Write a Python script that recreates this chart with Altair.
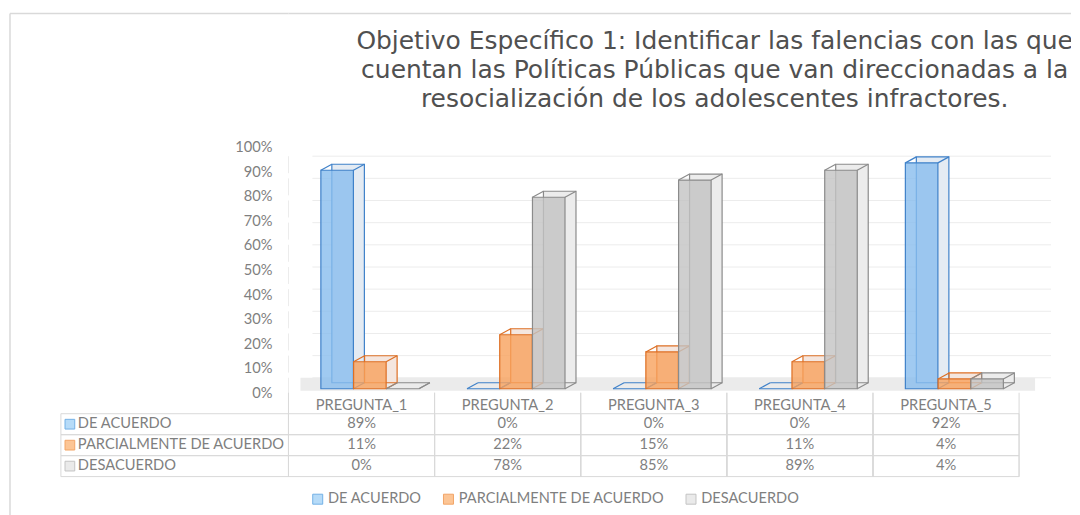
import altair as alt
import pandas as pd

# ---------------- data ----------------
titulo = [
    "Objetivo Específico 1: Identificar las falencias con las que",
    "cuentan las Políticas Públicas que van direccionadas a la",
    "resocialización de los adolescentes infractores.",
]
categorias = ["PREGUNTA_1", "PREGUNTA_2", "PREGUNTA_3", "PREGUNTA_4", "PREGUNTA_5"]
series = ["DE ACUERDO", "PARCIALMENTE DE ACUERDO", "DESACUERDO"]
de_acuerdo = [0.89, 0.00, 0.00, 0.00, 0.92]
parcialmente = [0.11, 0.22, 0.15, 0.11, 0.04]
desacuerdo = [0.00, 0.78, 0.85, 0.89, 0.04]
marcas_eje = [0.0, 0.1, 0.2, 0.3, 0.4, 0.5, 0.6, 0.7, 0.8, 0.9, 1.0]

# ---------------- styles ----------------
FONT = "Lato"
FONT_TIT = "DejaVu Sans"
TAM = 14.7
GRIS_TXT = "#7f7f7f"
LINEA = "#d9d9d9"
relleno_frente = ["#88bdee", "#f7a15c", "#c3c3c3"]
relleno_fondo = ["#e4ebf3", "#f4e6df", "#ececec"]
borde = ["#3f81c9", "#dd6f24", "#8b8b8b"]
relleno_icono = ["#b6dbf8", "#fcc595", "#eaeaea"]
borde_icono = ["#73b1e6", "#f2a566", "#c4c4c4"]

valores = {series[0]: de_acuerdo, series[1]: parcialmente, series[2]: desacuerdo}
df = pd.DataFrame(
    [{"pregunta": c, "serie": s, "valor": v} for s in series for c, v in zip(categorias, valores[s])]
)
df_cat = pd.DataFrame({"pregunta": categorias})
df_ser = pd.DataFrame({"serie": series})
df_marcas = pd.DataFrame({"v": marcas_eje})
uno = alt.Data(values=[{}])

W_IZQ, W_DER, W_PLOT = 279, 784, 732
H_TIT, H_BAR, H_TAB = 130, 250, 84

x_esc = alt.Scale(domain=categorias, paddingInner=0, paddingOuter=0)
y_esc = alt.Scale(domain=[-0.01626, 1.0], nice=False, zero=False)
filas = ["encabezado"] + series
y_filas = alt.Scale(domain=filas, paddingInner=0, paddingOuter=0)
X = alt.X("pregunta:N", scale=x_esc, axis=None)
Yv = alt.Y("valor:Q", scale=y_esc, axis=None)

# ---------------- bars panel ----------------
piso = alt.Chart(uno).mark_rect(x=12, x2=748, yOffset=2, y2Offset=-11, color="#ebebeb").encode(
    y=alt.YDatum(0, scale=y_esc, axis=None), y2=alt.Y2Datum(0)
)
persp = "0.0447 + 0.9025*datum.v"
rejilla = alt.Chart(df_marcas).transform_calculate(u=persp).mark_rule(
    x=24, x2=764, color="#ececec", strokeWidth=1
).encode(y=alt.Y("u:Q", scale=y_esc, axis=None))
pared = alt.Chart(df_marcas).transform_calculate(u=persp).mark_rule(
    x=0, x2=24, yOffset=17, color="#ececec", strokeWidth=1
).encode(y=alt.Y("u:Q", scale=y_esc, axis=None), y2=alt.Y2("u:Q"))

leyenda = alt.Legend(
    title=None, orient="none", legendX=22, legendY=349, direction="horizontal",
    symbolType="square", symbolSize=100, symbolStrokeWidth=1, symbolOpacity=1,
    labelFontSize=14.6, labelColor=GRIS_TXT, labelFont=FONT, labelLimit=0,
    columnPadding=19, labelOffset=3,
)
# invisible layer that only carries the legend (light swatches like the original)
capa_leyenda = alt.Chart(df_ser).mark_rect().encode(
    x=alt.value(0), x2=alt.value(0), y=alt.value(0), y2=alt.value(0),
    fill=alt.Fill("serie:N", scale=alt.Scale(domain=series, range=relleno_icono), legend=leyenda),
    stroke=alt.Stroke("serie:N", scale=alt.Scale(domain=series, range=borde_icono), legend=leyenda),
)

paso, ancho, inicio, centro_banda = 32.8, 32.6, 32.5, 73.25
prof_x, prof_y = 11, -6
capas = [piso, rejilla, pared]
for i, s in enumerate(series):
    dx = inicio + ancho / 2 + paso * i - centro_banda
    b = alt.Chart(df).transform_filter(alt.datum.serie == s)
    fondo = b.mark_bar(
        width=ancho, xOffset=dx + prof_x, yOffset=prof_y, y2Offset=prof_y,
        fill=relleno_fondo[i], stroke=borde[i], strokeWidth=1.2,
    ).encode(x=X, y=Yv, y2=alt.Y2Datum(0))
    d1 = b.mark_rule(
        xOffset=dx - ancho / 2, x2Offset=dx - ancho / 2 + prof_x, y2Offset=prof_y,
        stroke=borde[i], strokeWidth=1.2,
    ).encode(x=X, x2=alt.X2("pregunta"), y=Yv, y2=alt.Y2("valor"))
    d2 = b.mark_rule(
        xOffset=dx + ancho / 2, x2Offset=dx + ancho / 2 + prof_x, y2Offset=prof_y,
        stroke=borde[i], strokeWidth=1.2,
    ).encode(x=X, x2=alt.X2("pregunta"), y=Yv, y2=alt.Y2("valor"))
    d3 = b.mark_rule(
        xOffset=dx + ancho / 2, x2Offset=dx + ancho / 2 + prof_x, y2Offset=prof_y,
        stroke=borde[i], strokeWidth=1.2,
    ).encode(x=X, x2=alt.X2("pregunta"), y=alt.YDatum(0, scale=y_esc, axis=None), y2=alt.Y2Datum(0))
    frente = b.mark_bar(
        width=ancho, xOffset=dx, fill=relleno_frente[i], fillOpacity=0.8,
        stroke=borde[i], strokeWidth=1.2,
    ).encode(x=X, y=Yv, y2=alt.Y2Datum(0))
    capas += [fondo, d1, d2, d3, frente]
capas.append(capa_leyenda)

barras = alt.layer(*capas).properties(width=W_PLOT, height=H_BAR)

# ---------------- title panel ----------------
marco_sup = alt.Chart(uno).mark_rule(color=LINEA, strokeWidth=1.5).encode(
    x=alt.value(0), x2=alt.value(W_DER), y=alt.value(0)
)
texto_titulo = alt.Chart(uno).mark_text(
    x=427, y=28, align="center", baseline="middle", fontSize=25, lineHeight=29,
    color="#505050", clip=True, font=FONT_TIT,
).encode(text=alt.value(titulo))
panel_titulo = alt.layer(marco_sup, texto_titulo).properties(width=W_DER, height=H_TIT)

# ---------------- left frame cells ----------------
esq = alt.layer(
    alt.Chart(uno).mark_rule(color=LINEA, strokeWidth=1.5).encode(
        x=alt.value(0), y=alt.value(0), y2=alt.value(H_TIT)
    ),
    alt.Chart(uno).mark_rule(color=LINEA, strokeWidth=1.5).encode(
        x=alt.value(0), x2=alt.value(W_IZQ), y=alt.value(0)
    ),
).properties(width=W_IZQ, height=H_TIT)
marco_barras = alt.Chart(uno).mark_rule(color=LINEA, strokeWidth=1.5).encode(
    x=alt.value(0), y=alt.value(0), y2=alt.value(H_BAR)
)
etiquetas_y = alt.Chart(df_marcas).mark_text(
    x=263, align="right", baseline="middle", dy=5, fontSize=TAM, color=GRIS_TXT, font=FONT
).encode(y=alt.Y("v:Q", scale=y_esc, axis=None), text=alt.Text("v:Q", format=".0%"))
izq_barras = alt.layer(marco_barras, etiquetas_y).properties(width=W_IZQ, height=H_BAR)

# ---------------- table: label column ----------------
Yf = alt.Y("serie:N", scale=y_filas, axis=None)
celdas_izq = alt.Chart(df_ser).mark_rect(x=51, x2=W_IZQ, fillOpacity=0, stroke=LINEA, strokeWidth=1).encode(y=Yf)
iconos = alt.Chart(df_ser).mark_square(x=60, size=95, strokeWidth=1, opacity=1).encode(
    y=Yf,
    fill=alt.Fill("serie:N", scale=alt.Scale(domain=series, range=relleno_icono), legend=None),
    stroke=alt.Stroke("serie:N", scale=alt.Scale(domain=series, range=borde_icono), legend=None),
)
etiquetas = alt.Chart(df_ser).mark_text(
    x=68, align="left", baseline="middle", fontSize=TAM, color=GRIS_TXT, font=FONT
).encode(y=Yf, text="serie:N")
marco_izq = alt.Chart(uno).mark_rule(color=LINEA, strokeWidth=1.5).encode(
    x=alt.value(0), y=alt.value(0), y2=alt.value(H_TAB + 40)
)
tabla_izq = alt.layer(celdas_izq, iconos, etiquetas, marco_izq).properties(width=W_IZQ, height=H_TAB)

# ---------------- table: values ----------------
celdas = alt.Chart(df).mark_rect(fillOpacity=0, stroke=LINEA, strokeWidth=1).encode(x=X, y=Yf)
sep_a = alt.Chart(df_cat).mark_rule(color=LINEA, strokeWidth=1).encode(
    x=alt.X("pregunta:N", scale=x_esc, axis=None, bandPosition=0)
)
sep_b = alt.Chart(df_cat).mark_rule(color=LINEA, strokeWidth=1).encode(
    x=alt.X("pregunta:N", scale=x_esc, axis=None, bandPosition=1)
)
encabezados = alt.Chart(df_cat).transform_calculate(fila="'encabezado'").mark_text(
    fontSize=TAM, color=GRIS_TXT, font=FONT, baseline="middle", dy=3
).encode(x=X, y=alt.Y("fila:N", scale=y_filas, axis=None), text="pregunta:N")
numeros = alt.Chart(df).mark_text(fontSize=TAM, color=GRIS_TXT, font=FONT, baseline="middle").encode(
    x=X, y=Yf, text=alt.Text("valor:Q", format=".0%")
)
tabla = alt.layer(celdas, sep_a, sep_b, encabezados, numeros).properties(width=W_PLOT, height=H_TAB)

chart = (
    alt.concat(esq, panel_titulo, izq_barras, barras, tabla_izq, tabla, columns=2, spacing=0, bounds="flush")
    .resolve_scale(x="independent", y="independent", fill="independent", stroke="independent")
    .properties(padding={"left": 1, "top": 4, "right": 0, "bottom": 0})
    .configure(font=FONT)
    .configure_view(strokeWidth=0)
)

chart.save("out.html", embed_options={"renderer": "svg", "actions": False})
